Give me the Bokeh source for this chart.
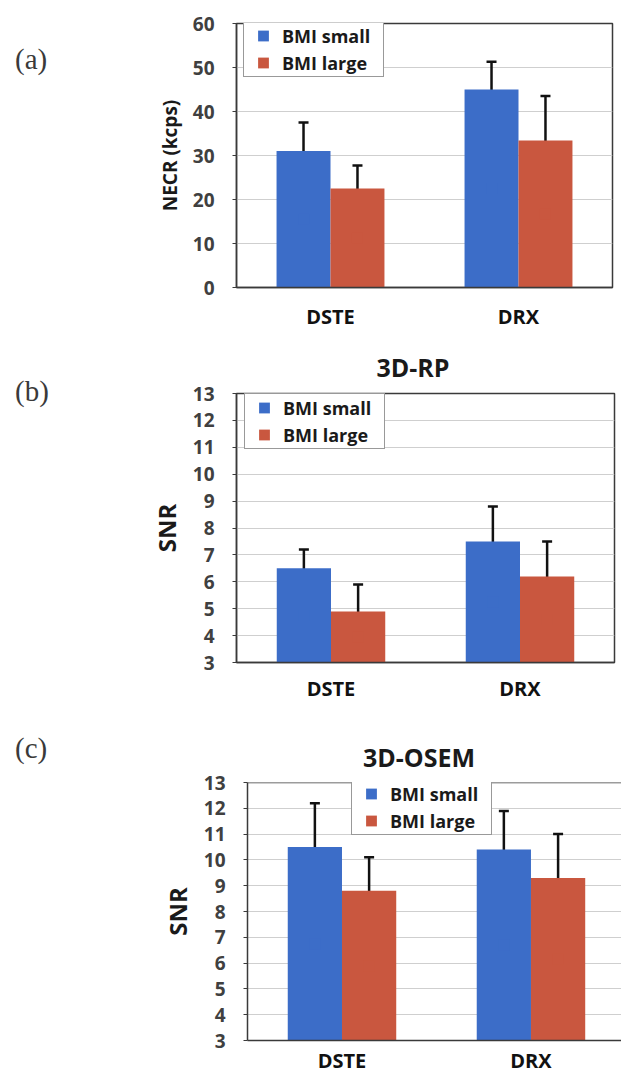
from bokeh.plotting import figure
from bokeh.layouts import column, row
from bokeh.models import (Range1d, FixedTicker, Legend, LegendItem, Whisker, TeeHead,
                          ColumnDataSource, Span, Div)
from bokeh.embed import file_html
from bokeh.resources import INLINE

# ---------------- data ----------------
categories = ["DSTE", "DRX"]
series_names = ["BMI small", "BMI large"]
series_colors = ["#3C6DC8", "#C9573F"]

necr_small = [31.0, 45.0]
necr_small_err = [6.5, 6.3]
necr_large = [22.5, 33.4]
necr_large_err = [5.2, 10.1]

rp_small = [6.5, 7.5]
rp_small_err = [0.7, 1.3]
rp_large = [4.9, 6.2]
rp_large_err = [1.0, 1.3]

osem_small = [10.5, 10.4]
osem_small_err = [1.7, 1.5]
osem_large = [8.8, 9.3]
osem_large_err = [1.3, 1.7]

necr_ticks = [0, 10, 20, 30, 40, 50, 60]
snr_ticks = [3, 4, 5, 6, 7, 8, 9, 10, 11, 12, 13]

FONT = "Open Sans"
BAR_W = 0.287
DIV_W = 80


def make_panel(small, small_err, large, large_err, yticks, ylabel, ylabel_size,
               title, title_h, title_top, title_left, letter, letter_top,
               height, b_top, b_bottom, b_left, b_right, x_end,
               legend_loc, x_standoff, outline=True):
    centers = [i + 0.5 for i in range(len(categories))]
    fig_h = height - title_h
    p = figure(width=621 - DIV_W, height=fig_h,
               x_range=Range1d(0, x_end), y_range=Range1d(yticks[0], yticks[-1]),
               output_backend="svg", toolbar_location=None,
               min_border_top=b_top - title_h,
               min_border_bottom=b_bottom,
               min_border_left=b_left - DIV_W, min_border_right=b_right,
               outline_line_color="#3a3a3a" if outline else None,
               outline_line_width=1.5, margin=0)
    p.background_fill_color = "white"
    p.border_fill_color = "white"

    legend_items = []
    for k, (vals, errs, off) in enumerate([(small, small_err, -BAR_W / 2),
                                            (large, large_err, BAR_W / 2)]):
        xs = [c + off for c in centers]
        src = ColumnDataSource(dict(
            x=xs, top=vals,
            mid=[(v + yticks[0]) / 2 for v in vals],
            upper=[v + e for v, e in zip(vals, errs)],
            lower=[v - e for v, e in zip(vals, errs)]))
        p.vbar(x="x", top="top", bottom=yticks[0], width=BAR_W, source=src,
               fill_color=series_colors[k], line_color=None)
        # legend key: square marker in the bar colour, hidden inside the bar
        key = p.scatter(x="x", y="mid", source=src, marker="square", size=11,
                        fill_color=series_colors[k], line_color=None)
        w = Whisker(base="x", upper="upper", lower="lower", source=src,
                    line_color="#111111", line_width=2.5,
                    upper_head=TeeHead(size=10, line_width=2.5, line_color="#111111"),
                    lower_head=TeeHead(size=10, line_width=2.5, line_color="#111111"))
        p.add_layout(w)
        legend_items.append(LegendItem(label=series_names[k], renderers=[key]))

    legend = Legend(items=legend_items, location=legend_loc,
                    padding=0, spacing=-4, margin=0,
                    glyph_width=38, glyph_height=27, label_standoff=0, label_width=101,
                    label_text_font=FONT, label_text_font_style="bold",
                    label_text_font_size="18px", label_text_color="#1a1a1a",
                    border_line_color="#333333", border_line_width=1.5,
                    background_fill_color="white", background_fill_alpha=1.0)
    p.add_layout(legend, "center")

    # grid
    p.xgrid.grid_line_color = None
    p.ygrid.grid_line_color = "#cfcfcf"
    p.ygrid.grid_line_width = 1

    # y axis
    p.yaxis.ticker = FixedTicker(ticks=yticks)
    p.yaxis.axis_label = ylabel
    p.yaxis.axis_label_text_font = FONT
    p.yaxis.axis_label_text_font_style = "bold"
    p.yaxis.axis_label_text_font_size = ylabel_size
    p.yaxis.axis_label_text_color = "#1a1a1a"
    p.yaxis.axis_label_standoff = 7
    p.yaxis.major_label_text_font = FONT
    p.yaxis.major_label_text_font_style = "bold"
    p.yaxis.major_label_text_font_size = "19px"
    p.yaxis.major_label_text_color = "#404040"
    p.yaxis.major_label_standoff = 18
    p.yaxis.major_tick_in = 0
    p.yaxis.major_tick_out = 4
    p.yaxis.major_tick_line_color = "#3a3a3a"
    p.yaxis.minor_tick_line_color = None
    p.yaxis.axis_line_color = "#3a3a3a"
    p.yaxis.axis_line_width = 1.5

    # x axis
    p.xaxis.ticker = FixedTicker(ticks=centers)
    p.xaxis.major_label_overrides = {c: lab for c, lab in zip(centers, categories)}
    p.xaxis.major_label_text_font = FONT
    p.xaxis.major_label_text_font_style = "bold"
    p.xaxis.major_label_text_font_size = "20px"
    p.xaxis.major_label_text_color = "#111111"
    p.xaxis.major_label_standoff = x_standoff
    p.xaxis.major_tick_in = 0
    p.xaxis.major_tick_out = 0
    p.xaxis.major_tick_line_color = None
    p.xaxis.minor_tick_line_color = None
    p.xaxis.axis_line_color = "#3a3a3a"
    p.xaxis.axis_line_width = 1.5

    if not outline:
        p.add_layout(Span(location=yticks[-1], dimension="width",
                          line_color="#3a3a3a", line_width=1.5))

    letter_div = Div(text=('<div style="margin-top:%dpx; margin-left:15px; line-height:1; '
                           'font-family:\'Liberation Serif\', serif; font-size:29px; '
                           'color:#3a3a3a;">%s</div>') % (letter_top, letter),
                     width=DIV_W, height=height, margin=0)
    if title:
        title_div = Div(text=('<div style="margin-top:%dpx; margin-left:%dpx; width:160px; '
                              'text-align:center; line-height:1; font-family:\'Open Sans\', sans-serif; '
                              'font-weight:bold; font-size:25px; color:#1a1a1a;">%s</div>')
                        % (title_top, title_left, title),
                        width=621 - DIV_W, height=title_h, margin=0)
        right = column(title_div, p, spacing=0, margin=0)
    else:
        right = p
    return row(letter_div, right, spacing=0, margin=0)


pa = make_panel(necr_small, necr_small_err, necr_large, necr_large_err,
                necr_ticks, "NECR (kcps)", "19px", None, 0, 0, 0, "(a)", 45,
                height=335, b_top=23, b_bottom=48, b_left=236, b_right=9, x_end=2.0,
                legend_loc=(7, 210), x_standoff=15)

pb = make_panel(rp_small, rp_small_err, rp_large, rp_large_err,
                snr_ticks, "SNR", "24px", "3D-RP", 45, 20, 253, "(b)", 42,
                height=370, b_top=58, b_bottom=43, b_left=236, b_right=7, x_end=2.0,
                legend_loc=(8, 213), x_standoff=12)

pc = make_panel(osem_small, osem_small_err, osem_large, osem_large_err,
                snr_ticks, "SNR", "24px", "3D-OSEM", 64, 40, 259, "(c)", 29,
                height=371, b_top=77, b_bottom=36, b_left=247, b_right=0, x_end=1.979,
                legend_loc=(104, 205), x_standoff=6, outline=False)

layout = column(pa, pb, pc, spacing=0, margin=0)
open("out.html", "w").write(file_html(layout, INLINE))
